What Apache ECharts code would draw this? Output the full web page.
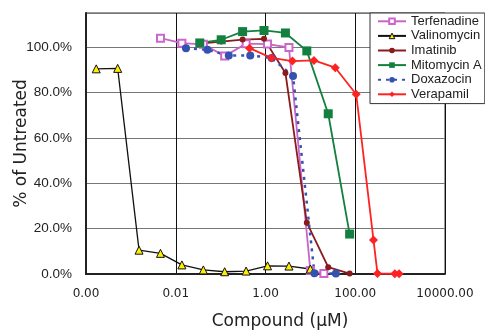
<!DOCTYPE html>
<html>
<head>
<meta charset="utf-8">
<script src="https://cdn.jsdelivr.net/npm/echarts@6/dist/echarts.min.js"></script>
<style>
html,body{margin:0;padding:0;background:#fff;}
#chart{width:485px;height:331px;}
</style>
</head>
<body>
<div id="chart"></div>
<script>
// Concentrations (µM) and % of untreated values
const concTerf = [0.00457, 0.0137, 0.0412, 0.123, 0.370, 1.11, 3.33, 10, 20];
const terfenadine = [103.9, 101.7, 101.2, 96.0, 101.5, 101.3, 99.8, 1.5, 0.2];
const concVali = [0.000169, 0.000508, 0.00152, 0.00457, 0.0137, 0.0412, 0.123, 0.370, 1.11, 3.33, 10];
const valinomycin = [90.4, 90.6, 10.5, 9.1, 4.0, 1.8, 1.0, 1.3, 3.6, 3.5, 2.2];
const concImat = [0.0343, 0.103, 0.309, 0.926, 2.78, 8.33, 25, 75];
const imatinib = [101.5, 102.4, 103.3, 103.6, 88.6, 22.6, 3.0, 0.2];
const concMito = [0.0343, 0.103, 0.309, 0.926, 2.78, 8.33, 25, 75];
const mitomycin = [101.8, 103.2, 106.8, 107.3, 106.2, 98.3, 70.6, 17.6];
const concDoxa = [0.0169, 0.0508, 0.152, 0.457, 1.37, 4.11, 12.3, 37];
const doxazocin = [99.5, 98.8, 96.3, 96.3, 95.2, 87.2, 0.3, 0.2];
const concVera = [0.44, 1.36, 3.98, 12.0, 35.9, 105, 255, 313, 762, 950];
const verapamil = [99.5, 95.2, 93.8, 94.1, 90.9, 79.2, 15.0, 0.2, 0.1, 0.1];

const seriesNames = ['Terfenadine', 'Valinomycin', 'Imatinib', 'Mitomycin A', 'Doxazocin', 'Verapamil'];
const xTitle = 'Compound (µM)';
const yTitle = '% of Untreated';

function pairs(xs, ys) { return xs.map((x, i) => [x, ys[i]]); }

const chart = echarts.init(document.getElementById('chart'), null, {renderer: 'canvas'});
const arial = '"Liberation Sans", Arial, sans-serif';
const dejavu = '"DejaVu Sans", Verdana, sans-serif';

chart.setOption({
  animation: false,
  backgroundColor: '#fff',
  grid: {left: 86, right: 40, top: 13, bottom: 57, show: true, borderColor: '#333', borderWidth: 1,
    containLabel: false, outerBoundsMode: 'none'},
  legend: {
    orient: 'vertical', left: 370, top: 13,
    data: seriesNames.map(n => n === 'Valinomycin'
      ? {name: n, itemStyle: {color: '#ffee00', borderColor: '#111', borderWidth: 1}}
      : {name: n}),
    backgroundColor: '#fff', borderColor: '#333', borderWidth: 1,
    padding: [1, 3, 2, 7],
    itemWidth: 28, itemHeight: 7, itemGap: 0,
    textStyle: {fontFamily: arial, fontSize: 13, color: '#222', lineHeight: 14.6}
  },
  xAxis: {
    type: 'log', logBase: 100, min: 0.0001, max: 10000,
    name: xTitle, nameLocation: 'middle', nameGap: 39, nameMoveOverlap: false,
    nameTextStyle: {fontFamily: dejavu, fontSize: 17, color: '#222', padding: [0, 0, 0, 29]},
    axisLine: {show: true, lineStyle: {color: '#222', width: 2}},
    axisTick: {show: false},
    axisLabel: {margin: 14, fontFamily: dejavu, fontSize: 12, color: '#222',
      formatter: v => Number(v).toFixed(2)},
    splitLine: {show: true, lineStyle: {color: '#111', width: 1}},
    minorSplitLine: {show: false}
  },
  yAxis: {
    type: 'value', min: 0, max: 115, interval: 20,
    name: yTitle, nameLocation: 'middle', nameGap: 56, nameRotate: 90, nameMoveOverlap: false,
    nameTextStyle: {fontFamily: dejavu, fontSize: 17, color: '#222'},
    axisLine: {show: true, lineStyle: {color: '#222', width: 2}},
    axisTick: {show: false},
    axisLabel: {margin: 14, fontFamily: arial, fontSize: 13.5, color: '#222',
      formatter: v => (v > 100.5 ? '' : v.toFixed(1) + '%')},
    splitLine: {show: true, lineStyle: {color: '#777', width: 1}}
  },
  series: [
    {name: 'Terfenadine', type: 'line', data: pairs(concTerf, terfenadine),
      symbol: 'emptyRect', symbolSize: 7,
      lineStyle: {color: '#c865c8', width: 1.8}, itemStyle: {color: '#cc66cc', borderWidth: 1.3}},
    {name: 'Valinomycin', type: 'line', data: pairs(concVali, valinomycin),
      symbol: 'triangle', symbolSize: 8,
      lineStyle: {color: '#111', width: 1.3}, itemStyle: {color: '#ffee00', borderColor: '#111', borderWidth: 1}},
    {name: 'Imatinib', type: 'line', data: pairs(concImat, imatinib),
      symbol: 'circle', symbolSize: 6,
      lineStyle: {color: '#8b1a1a', width: 1.8}, itemStyle: {color: '#8b1a1a'}},
    {name: 'Mitomycin A', type: 'line', data: pairs(concMito, mitomycin),
      symbol: 'rect', symbolSize: 9,
      lineStyle: {color: '#138040', width: 1.8}, itemStyle: {color: '#138040'}},
    {name: 'Doxazocin', type: 'line', data: pairs(concDoxa, doxazocin),
      symbol: 'circle', symbolSize: 8,
      lineStyle: {color: '#3452b0', width: 2.5, type: [3, 5]}, itemStyle: {color: '#3452b0'}},
    {name: 'Verapamil', type: 'line', data: pairs(concVera, verapamil),
      symbol: 'diamond', symbolSize: 9,
      lineStyle: {color: '#ff2222', width: 1.8}, itemStyle: {color: '#ff2222'}}
  ]
});
</script>
</body>
</html>
